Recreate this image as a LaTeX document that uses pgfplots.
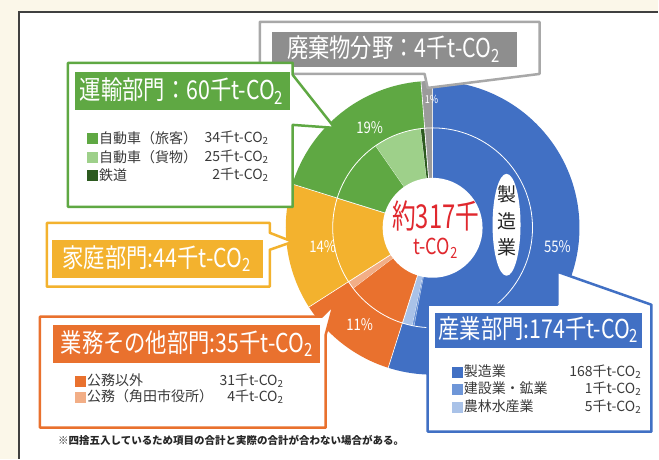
\documentclass[border=0pt]{standalone}
\usepackage{pgfplots}
\pgfplotsset{compat=1.18}
\usepackage{pgfplotstable}
\usepackage{fontspec}
\setmainfont{Noto Sans CJK JP}
\newfontfamily\cond[FakeStretch=0.82]{Noto Sans CJK JP}
\newfontfamily\condx[FakeStretch=0.72]{Noto Sans CJK JP}

\definecolor{cBlue}{HTML}{4170C4}
\definecolor{cBlueM}{HTML}{6E96D8}
\definecolor{cBlueL}{HTML}{A9C2E8}
\definecolor{cOrange}{HTML}{E9712E}
\definecolor{cOrangeL}{HTML}{F2AE86}
\definecolor{cYellow}{HTML}{F3B22E}
\definecolor{cGreen}{HTML}{5FA843}
\definecolor{cGreenL}{HTML}{9ED08A}
\definecolor{cGreenD}{HTML}{2C5A1F}
\definecolor{cGrey}{HTML}{9B9B9B}
\definecolor{cGreyBar}{HTML}{8E8E8E}
\definecolor{cGreyFrame}{HTML}{A8A8A8}
\definecolor{cRed}{HTML}{E0282E}
\definecolor{cCream}{HTML}{FBF7E9}
\definecolor{cText}{HTML}{3A3A3A}

% sectors, clockwise from the top (thousand t-CO2)
\pgfplotstableread{
value col
174 cBlue
35 cOrange
44 cYellow
60 cGreen
4 cGrey
}\sectors

% sub-sectors (inner ring), clockwise from the top
\pgfplotstableread{
value groupsum sector col
168 174 174 cBlue
1 174 174 cBlueM
5 174 174 cBlueL
31 35 35 cOrange
4 35 35 cOrangeL
44 44 44 cYellow
34 61 60 cGreen
25 61 60 cGreenL
2 61 60 cGreenD
4 4 4 cGrey
}\subsectors

\newcommand\leg{\color{cText}\fontsize{14}{16}\selectfont}
\newcommand\ttl{\cond\fontsize{26}{28}\selectfont}
\newcommand\pct{\cond\fontsize{16}{18}\selectfont}

\begin{document}
\begin{tikzpicture}
\begin{axis}[
  at={(0,0)}, anchor=south west,
  scale only axis, width=659pt, height=459pt,
  xmin=0, xmax=659, ymin=0, ymax=459, y dir=reverse,
  hide axis, clip=false]

% background
\fill[cCream] (axis cs:0,0) rectangle (axis cs:659,459);
\fill[white] (axis cs:19,12) rectangle (axis cs:659,459);
\draw[black!75, line width=1.2pt] (axis cs:19,459) -- (axis cs:19,12) -- (axis cs:659,12);

% outer sectors
\def\total{317}
\def\acc{90}
\pgfplotsforeachungrouped \i in {0,...,4}{%
  \pgfplotstablegetelem{\i}{value}\of\sectors \let\val\pgfplotsretval
  \pgfplotstablegetelem{\i}{col}\of\sectors \let\col\pgfplotsretval
  \pgfmathsetmacro\angB{\acc-\val/\total*360}%
  \edef\temp{\noexpand\fill[\col] (axis cs:433,228) -- ++(\acc:147pt) arc[start angle=\acc, end angle=\angB, radius=147pt] -- cycle;}%
  \temp
  \let\acc\angB
}
% inner sub-sectors
\def\acc{90}
\pgfplotsforeachungrouped \i in {0,...,9}{%
  \pgfplotstablegetelem{\i}{value}\of\subsectors \let\val\pgfplotsretval
  \pgfplotstablegetelem{\i}{groupsum}\of\subsectors \let\grp\pgfplotsretval
  \pgfplotstablegetelem{\i}{sector}\of\subsectors \let\sec\pgfplotsretval
  \pgfplotstablegetelem{\i}{col}\of\subsectors \let\col\pgfplotsretval
  \pgfmathsetmacro\angB{\acc-\val/\grp*\sec/\total*360}%
  \edef\temp{\noexpand\fill[\col] (axis cs:433,228) -- ++(\acc:100pt) arc[start angle=\acc, end angle=\angB, radius=100pt] -- cycle;
    \noexpand\draw[white, line width=0.6pt] (axis cs:433,228) -- ++(\angB:100pt);}%
  \temp
  \let\acc\angB
}
% sector boundaries
\def\acc{90}
\pgfplotsforeachungrouped \i in {0,...,4}{%
  \pgfplotstablegetelem{\i}{value}\of\sectors \let\val\pgfplotsretval
  \pgfmathsetmacro\angB{\acc-\val/\total*360}%
  \edef\temp{\noexpand\draw[white, line width=0.6pt] (axis cs:433,228) -- ++(\angB:147pt);}%
  \temp
  \let\acc\angB
}
\draw[white, line width=0.8pt] (axis cs:433,228) circle[radius=100pt];
\fill[white] (axis cs:433,228) circle[radius=50pt];

% percentages
\node[text=white, font=\pct] at (axis cs:558,247) {55\%};
\node[text=white, font=\cond\fontsize{11}{12}\selectfont] at (axis cs:432,100) {1\%};
\node[text=white, font=\pct] at (axis cs:370,128) {19\%};
\node[text=white, font=\pct] at (axis cs:323,247) {14\%};
\node[text=white, font=\pct] at (axis cs:360,325) {11\%};

% centre
\node[text=cRed, font=\condx\fontsize{33}{34}\selectfont] at (axis cs:436,216) {約317千};
\node[text=cRed, font=\cond\fontsize{22}{24}\selectfont] at (axis cs:436,249) {t-CO\textsubscript{2}};
\fill[white] (axis cs:507,225) ellipse[x radius=14pt, y radius=51pt];
\node[text=black!85, font=\fontsize{19}{20}\selectfont] at (axis cs:507,194) {製};
\node[text=black!85, font=\fontsize{19}{20}\selectfont] at (axis cs:507,221) {造};
\node[text=black!85, font=\fontsize{19}{20}\selectfont] at (axis cs:507,248) {業};

% waste callout
\draw[cGreyFrame, line width=2.5pt, fill=white, line join=round]
  (axis cs:260,22) -- (axis cs:540,22) -- (axis cs:540,74) -- (axis cs:428,88) -- (axis cs:425,74) -- (axis cs:260,74) -- cycle;
\fill[cGreyBar] (axis cs:272,32) rectangle (axis cs:517,67);
\node[text=white, font=\ttl] at (axis cs:394,49) {廃棄物分野：4千t-CO\textsubscript{2}};

% transport callout
\draw[cGreen, line width=2.5pt, fill=white, line join=round]
  (axis cs:68,63) -- (axis cs:293,63) -- (axis cs:293,75) -- (axis cs:335,128) -- (axis cs:293,125) -- (axis cs:293,207) -- (axis cs:68,207) -- cycle;
\fill[cGreen] (axis cs:75,72) rectangle (axis cs:290,110);
\node[text=white, font=\ttl] at (axis cs:182,91) {運輸部門：60千t-CO\textsubscript{2}};
\fill[cGreen] (axis cs:87,133) rectangle (axis cs:98,144);
\fill[cGreenL] (axis cs:87,152) rectangle (axis cs:98,163);
\fill[cGreenD] (axis cs:87,170) rectangle (axis cs:98,181);
\node[anchor=west, inner sep=0pt, font=\leg] at (axis cs:99,138) {自動車（旅客）};
\node[anchor=west, inner sep=0pt, font=\leg] at (axis cs:99,157) {自動車（貨物）};
\node[anchor=west, inner sep=0pt, font=\leg] at (axis cs:99,175) {鉄道};
\node[anchor=east, inner sep=0pt, font=\leg] at (axis cs:269,138) {34千t-CO\textsubscript{2}};
\node[anchor=east, inner sep=0pt, font=\leg] at (axis cs:269,157) {25千t-CO\textsubscript{2}};
\node[anchor=east, inner sep=0pt, font=\leg] at (axis cs:269,175) {2千t-CO\textsubscript{2}};

% household callout
\draw[cYellow, line width=2.5pt, fill=white, line join=round]
  (axis cs:47,223) -- (axis cs:270,223) -- (axis cs:270,233) -- (axis cs:293,242) -- (axis cs:270,250) -- (axis cs:270,287) -- (axis cs:47,287) -- cycle;
\fill[cYellow] (axis cs:52,240) rectangle (axis cs:263,278);
\node[text=white, font=\ttl] at (axis cs:157,259) {家庭部門:44千t-CO\textsubscript{2}};

% commercial callout
\draw[cOrange, line width=2.5pt, fill=white, line join=round]
  (axis cs:40,317) -- (axis cs:322,317) -- (axis cs:334,305) -- (axis cs:326,335) -- (axis cs:326,428) -- (axis cs:40,428) -- cycle;
\fill[cOrange] (axis cs:53,325) rectangle (axis cs:320,363);
\node[text=white, font=\ttl] at (axis cs:187,344) {業務その他部門:35千t-CO\textsubscript{2}};
\fill[cOrange] (axis cs:75,376) rectangle (axis cs:86,387);
\fill[cOrangeL] (axis cs:75,392) rectangle (axis cs:86,403);
\node[anchor=west, inner sep=0pt, font=\leg] at (axis cs:87,381) {公務以外};
\node[anchor=west, inner sep=0pt, font=\leg] at (axis cs:87,397) {公務（角田市役所）};
\node[anchor=east, inner sep=0pt, font=\leg] at (axis cs:284,381) {31千t-CO\textsubscript{2}};
\node[anchor=east, inner sep=0pt, font=\leg] at (axis cs:284,397) {4千t-CO\textsubscript{2}};

% industry callout
\draw[cBlue, line width=2.5pt, fill=white, line join=round]
  (axis cs:428,305) -- (axis cs:558,305) -- (axis cs:558,272) -- (axis cs:652,305) -- (axis cs:652,432) -- (axis cs:428,432) -- cycle;
\fill[cBlue] (axis cs:435,313) rectangle (axis cs:643,348);
\node[text=white, font=\ttl] at (axis cs:539,330) {産業部門:174千t-CO\textsubscript{2}};
\fill[cBlue] (axis cs:452,367) rectangle (axis cs:463,378);
\fill[cBlueM] (axis cs:452,384) rectangle (axis cs:463,395);
\fill[cBlueL] (axis cs:452,402) rectangle (axis cs:463,413);
\node[anchor=west, inner sep=0pt, font=\leg] at (axis cs:464,372) {製造業};
\node[anchor=west, inner sep=0pt, font=\leg] at (axis cs:464,389) {建設業・鉱業};
\node[anchor=west, inner sep=0pt, font=\leg] at (axis cs:464,407) {農林水産業};
\node[anchor=east, inner sep=0pt, font=\leg] at (axis cs:642,372) {168千t-CO\textsubscript{2}};
\node[anchor=east, inner sep=0pt, font=\leg] at (axis cs:642,389) {1千t-CO\textsubscript{2}};
\node[anchor=east, inner sep=0pt, font=\leg] at (axis cs:642,407) {5千t-CO\textsubscript{2}};

% footnote
\node[anchor=west, inner sep=0pt, text=black!85, font=\bfseries\fontsize{10.5}{12}\selectfont] at (axis cs:58,441) {※四捨五入しているため項目の合計と実際の合計が合わない場合がある。};
\end{axis}
\end{tikzpicture}
\end{document}
